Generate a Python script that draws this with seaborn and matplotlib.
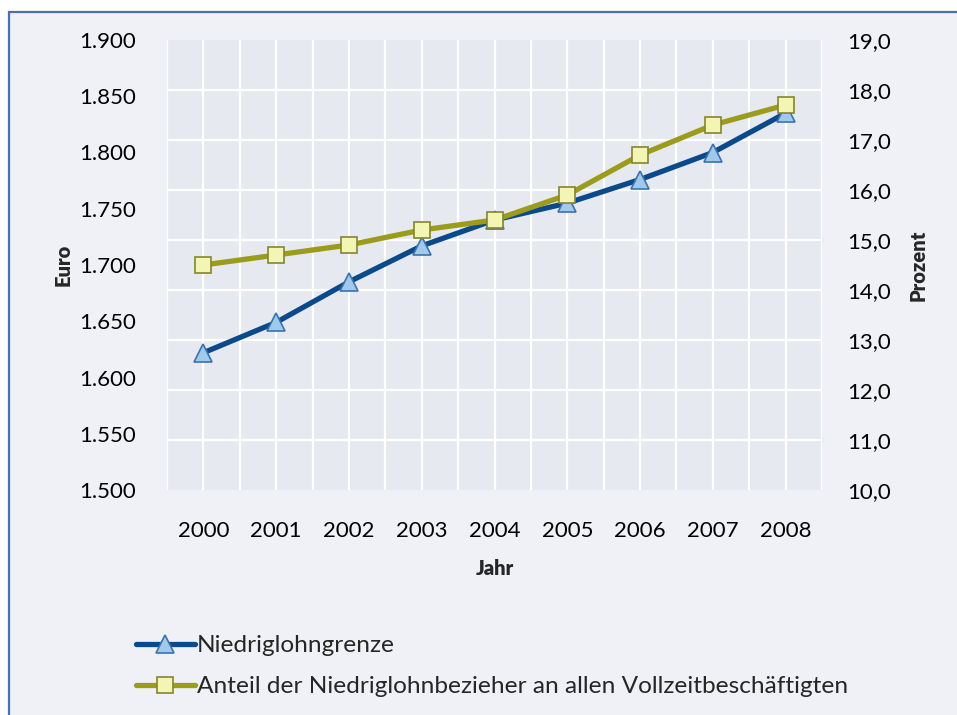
import matplotlib
matplotlib.use("Agg")
import matplotlib.pyplot as plt
import matplotlib.ticker as mticker
from matplotlib.patches import Rectangle
import seaborn as sns

# Values
years = [2000, 2001, 2002, 2003, 2004, 2005, 2006, 2007, 2008]
niedriglohngrenze = [1622, 1649, 1685, 1717, 1740, 1755, 1776, 1800, 1835]
anteil = [14.5, 14.7, 14.9, 15.2, 15.4, 15.9, 16.7, 17.3, 17.7]

label_euro = "Niedriglohngrenze"
label_anteil = "Anteil der Niedriglohnbezieher an allen Vollzeitbeschäftigten"

sns.set_theme(style="white")
plt.rcParams["font.family"] = ["Lato", "DejaVu Sans"]

outer_bg = "#f0f1f7"
plot_bg = "#e7e9f1"

fig = plt.figure(figsize=(9.57, 7.15), dpi=100, facecolor="white")
# outer chart frame (top edge visible, title area cropped above it)
fig.patches.append(Rectangle((9 / 957, -0.1), 1.2, 1.1 - 12 / 715, transform=fig.transFigure,
                             facecolor=outer_bg, edgecolor="#4f6fa8", linewidth=1.6, zorder=-5))

ax = fig.add_axes([167 / 957, 1 - 490 / 715, (822 - 167) / 957, (490 - 40) / 715])
ax.set_facecolor(plot_bg)
ax2 = ax.twinx()

sns.lineplot(x=years, y=niedriglohngrenze, ax=ax, color="#0b4a8a", linewidth=3.8,
             marker="^", markersize=13, markerfacecolor="#9fcaee",
             markeredgecolor="#3d72aa", markeredgewidth=1.2, label=label_euro, legend=False)
sns.lineplot(x=years, y=anteil, ax=ax2, color="#9b9b1c", linewidth=3.8,
             marker="s", markersize=12, markerfacecolor="#f3f5b4",
             markeredgecolor="#85852e", markeredgewidth=1.2, label=label_anteil, legend=False)

ax.set_xlim(1999.5, 2008.5)
ax.set_ylim(1500, 1900)
ax2.set_ylim(10, 19)

ax.set_xticks(years)
ax.xaxis.set_minor_locator(mticker.MultipleLocator(0.5))
ax.yaxis.set_major_locator(mticker.MultipleLocator(50))
# horizontal grid follows the right-hand (Prozent) scale
ax.yaxis.set_minor_locator(mticker.LinearLocator(10))
ax2.yaxis.set_major_locator(mticker.MultipleLocator(1))

ax.yaxis.set_major_formatter(mticker.FuncFormatter(lambda v, p: f"{v:,.0f}".replace(",", ".")))
ax2.yaxis.set_major_formatter(mticker.FuncFormatter(lambda v, p: f"{v:.1f}".replace(".", ",")))

ax.grid(False)
ax.grid(True, axis="x", which="both", color="white", linewidth=1.6)
ax.grid(True, axis="y", which="minor", color="white", linewidth=1.6)
ax2.grid(False)

for a in (ax, ax2):
    for s in a.spines.values():
        s.set_visible(False)
    a.tick_params(which="both", length=0, labelsize=16, colors="black")
ax.tick_params(axis="y", pad=22)
ax.tick_params(axis="x", pad=22)
ax2.tick_params(axis="y", pad=18)

ax.set_xlabel("Jahr", fontsize=14.5, fontweight="heavy", labelpad=13)
ax.set_ylabel("Euro", fontsize=14.5, fontweight="heavy", labelpad=5)
ax2.set_ylabel("Prozent", fontsize=14.5, fontweight="heavy", labelpad=13)

handles = ax.get_lines() + ax2.get_lines()
fig.legend(handles=handles, labels=[label_euro, label_anteil], loc="upper left",
           bbox_to_anchor=(114 / 957, 1 - 613 / 715), frameon=False, fontsize=17.6,
           handlelength=2.4, handletextpad=0.08, labelspacing=0.82)

fig.savefig("out.png", dpi=100, facecolor=fig.get_facecolor())
